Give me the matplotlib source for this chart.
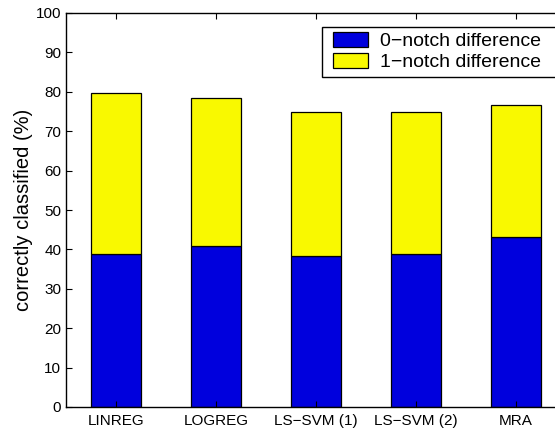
import matplotlib.pyplot as plt
import numpy as np
from matplotlib.patches import Rectangle

plt.rcParams['font.family'] = ['Liberation Sans', 'DejaVu Sans']

methods = ["LINREG", "LOGREG", "LS\u2212SVM (1)", "LS\u2212SVM (2)", "MRA"]
notch0 = [38.8, 40.9, 38.2, 38.8, 43.1]
total = [79.7, 78.3, 74.9, 74.9, 76.7]
notch1 = [t - n for t, n in zip(total, notch0)]

fig = plt.figure(figsize=(5.55, 4.29), dpi=100)
# the right edge of the axes lies past the picture, as in the original crop
ax = fig.add_axes([66 / 555, 22 / 429, 500 / 555, 394 / 429])

x = np.arange(1, len(methods) + 1)
ax.bar(x, notch0, width=0.5, color='#0000dd', edgecolor='black', linewidth=0.9,
       label="0\u2212notch difference")
ax.bar(x, notch1, width=0.5, bottom=notch0, color='#f9f900', edgecolor='black',
       linewidth=0.9, label="1\u2212notch difference")

ax.set_xlim(0.5, 5.5)
ax.set_ylim(0, 100)
ax.set_yticks(np.arange(0, 101, 10))
ax.set_xticks(x)
ax.set_xticklabels(methods)
ax.tick_params(direction='in', top=True, right=False, length=4, labelsize=11)
ax.tick_params(axis='x', pad=5)
ax.spines['right'].set_visible(False)
ax.set_ylabel("correctly classified (%)", fontsize=14.5, labelpad=2)
for s in ax.spines.values():
    s.set_linewidth(1.0)

# legend without its own frame; the box is drawn separately so it runs off the edge
leg = ax.legend(loc='upper left', bbox_to_anchor=(0.522, 0.967), fontsize=14,
                frameon=False, handlelength=1.8, handleheight=0.85, borderpad=0.3,
                labelspacing=0.12, handletextpad=0.6, borderaxespad=0)
ax.add_patch(Rectangle((0.512, (407 - 77) / 394), 0.6, 50 / 394, transform=ax.transAxes,
                       facecolor='white', edgecolor='black', linewidth=1.0,
                       clip_on=False, zorder=4))
leg.set_zorder(5)

fig.savefig("out.png", dpi=100)
plt.close(fig)
